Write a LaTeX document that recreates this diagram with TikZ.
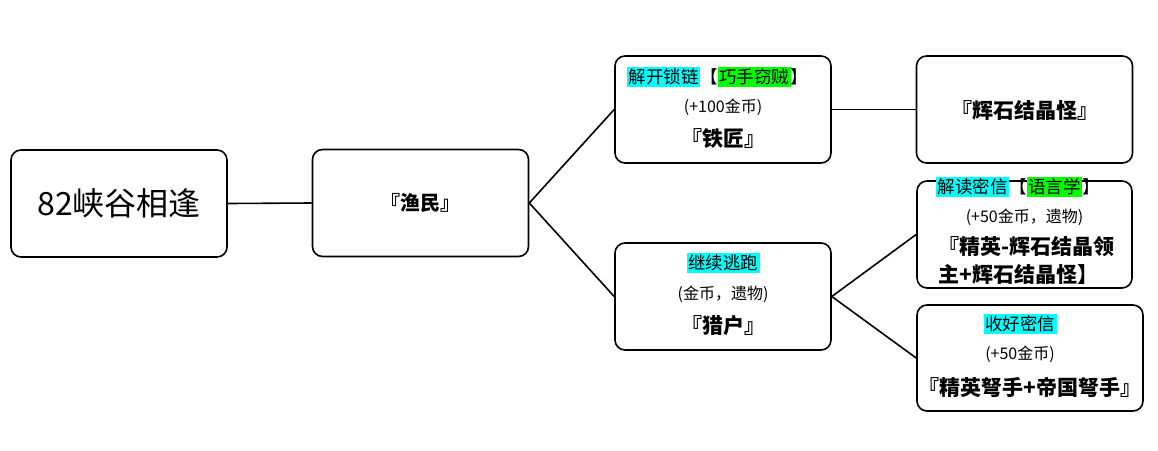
\documentclass[tikz,border=0pt]{standalone}
\usepackage{fontspec}
\setmainfont{Noto Sans CJK SC}
\definecolor{hlc}{HTML}{00FFFF}
\definecolor{hlg}{HTML}{00FF00}
\newcommand{\hlcy}[1]{{\setlength{\fboxsep}{1.5pt}\colorbox{hlc}{#1}}}
\newcommand{\hlgr}[1]{{\setlength{\fboxsep}{1.5pt}\colorbox{hlg}{#1}}}
\begin{document}
\begin{tikzpicture}[x=1pt,y=-1pt,
  box/.style={draw, line width=1.6pt, rounded corners=10pt, inner sep=0pt, minimum width=216pt, minimum height=107pt},
  conn/.style={line width=1.6pt},
  lineone/.style={inner sep=0pt, font=\fontsize{17.5}{20}\selectfont},
  linetwo/.style={inner sep=0pt, font=\fontsize{16}{19}\selectfont},
  linethree/.style={inner sep=0pt, font=\fontsize{21}{28}\selectfont\bfseries},
]
\fill[white] (0,0) rectangle (1158,450);
\useasboundingbox (0,0) rectangle (1158,450);

\node[box] (A) at (119,203.5) {};
\node[box] (B) at (420.5,203) {};
\node[box] (C) at (723,109.5) {};
\node[box] (D) at (1024.5,109.5) {};
\node[box] (E) at (723,296.5) {};
\node[box, minimum width=215pt] (F) at (1024.5,234.5) {};
\node[box, minimum width=226pt, minimum height=106pt] (G) at (1030,358) {};

\node[inner sep=0pt, font=\fontsize{32}{36}\selectfont] (At) at (119,203) {82峡谷相逢};
\node[inner sep=0pt, font=\fontsize{20}{24}\selectfont\bfseries] (Bt) at (420.5,203) {『渔民』};

\node[lineone] (C1) at (717.5,77) {\hlcy{解开锁链}【\hlgr{巧手窃贼}】};
\node[linetwo] (C2) at (723,107) {(+100金币)};
\node[linethree] (C3) at (723,139) {『铁匠』};

\node[linethree] (Dt) at (1024.5,110) {『辉石结晶怪』};

\node[lineone] (E1) at (723,263) {\hlcy{继续逃跑}};
\node[linetwo] (E2) at (723,294) {(金币，遗物)};
\node[linethree] (E3) at (723,326) {『猎户』};

\node[lineone] (F1) at (1018,187) {\hlcy{解读密信}【\hlgr{语言学}】};
\node[linetwo] (F2) at (1024.5,217) {(+50金币，遗物)};
\node[linethree, anchor=north west, align=left] (F3) at (938,236) {『精英-辉石结晶领\\主+辉石结晶怪】};

\node[lineone] (G1) at (1020,324) {\hlcy{收好密信}};
\node[linetwo] (G2) at (1020,354) {(+50金币)};
\node[linethree] (G3) at (1030,387) {『精英弩手+帝国弩手』};

\draw[conn] (A.east) -- (B.west);
\draw[conn] (B.east) -- (C.west);
\draw[conn] (B.east) -- (E.west);
\draw[conn] (C.east) -- (D.west);
\draw[conn] (E.east) -- (F.west);
\draw[conn] (E.east) -- (G.west);
\end{tikzpicture}
\end{document}
